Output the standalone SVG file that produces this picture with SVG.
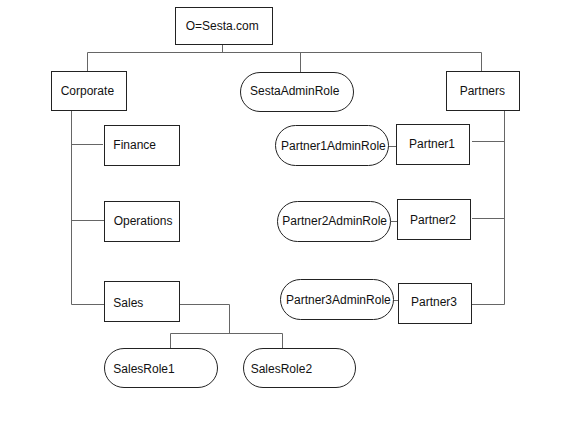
<svg xmlns="http://www.w3.org/2000/svg" width="584" height="437" viewBox="0 0 584 437">
<style>
.box{fill:#fff;stroke:#222;stroke-width:1}
.ln{fill:none;stroke:#666;stroke-width:1}
text{font-family:"Liberation Sans",Arial,sans-serif;font-size:12px;fill:#111}
</style>
<rect width="584" height="437" fill="#fff"/>
<g id="connectors">
<path class="ln" d="M222.5,44.5V52.5M87.5,71.5V52.5H481.5V71.5M300.5,52.5V72.5"/>
<path class="ln" d="M71.5,110.5V304.5H104.5M71.5,144.5H103M71.5,220.5H104.5"/>
<path class="ln" d="M179.5,304.5H229.5V333.5M170.5,348.5V333.5H282.5V348.5"/>
<path class="ln" d="M504.5,110.5V304.5H471.5M504.5,141.5H472M504.5,218.5H472"/>
<path class="ln" d="M388.5,146.5H396.5M390.5,221.5H397.5M393.5,300.5H398.5"/>
</g>
<g id="root"><rect class="box" x="175.5" y="7.5" width="97" height="37"/><text x="185.7" y="30">O=Sesta.com</text></g>
<g id="corporate"><rect class="box" x="51.5" y="71.5" width="75" height="39"/><text x="60.7" y="94.5">Corporate</text></g>
<g id="sestaadminrole"><rect class="box" x="240.5" y="72.5" width="113" height="39" rx="19.5"/><text x="250" y="95">SestaAdminRole</text></g>
<g id="partners"><rect class="box" x="446.5" y="71.5" width="73" height="39"/><text x="459.7" y="94.5">Partners</text></g>
<g id="finance"><rect class="box" x="104.5" y="125.5" width="75" height="40"/><text x="113.3" y="148.5">Finance</text></g>
<g id="operations"><rect class="box" x="104.5" y="201.5" width="75" height="40"/><text x="113.7" y="225">Operations</text></g>
<g id="sales"><rect class="box" x="104.5" y="281.5" width="75" height="40"/><text x="113.3" y="306.5">Sales</text></g>
<g id="salesrole1"><rect class="box" x="104.5" y="348.5" width="113" height="39" rx="19.5"/><text x="113.3" y="372.5">SalesRole1</text></g>
<g id="salesrole2"><rect class="box" x="243.5" y="348.5" width="112" height="39" rx="19.5"/><text x="250.7" y="372.5">SalesRole2</text></g>
<g id="partner1adminrole"><rect class="box" x="275.5" y="125.5" width="113" height="40" rx="20"/><text x="281" y="150">Partner1AdminRole</text></g>
<g id="partner1"><rect class="box" x="396.5" y="124.5" width="73" height="40"/><text x="409" y="147.5">Partner1</text></g>
<g id="partner2adminrole"><rect class="box" x="277.5" y="201.5" width="113" height="40" rx="20"/><text x="282.3" y="225">Partner2AdminRole</text></g>
<g id="partner2"><rect class="box" x="397.5" y="199.5" width="73" height="40"/><text x="410" y="223.5">Partner2</text></g>
<g id="partner3adminrole"><rect class="box" x="280.5" y="279.5" width="113" height="40" rx="20"/><text x="286" y="304.3">Partner3AdminRole</text></g>
<g id="partner3"><rect class="box" x="398.5" y="283.5" width="73" height="40"/><text x="411" y="306">Partner3</text></g>
</svg>
